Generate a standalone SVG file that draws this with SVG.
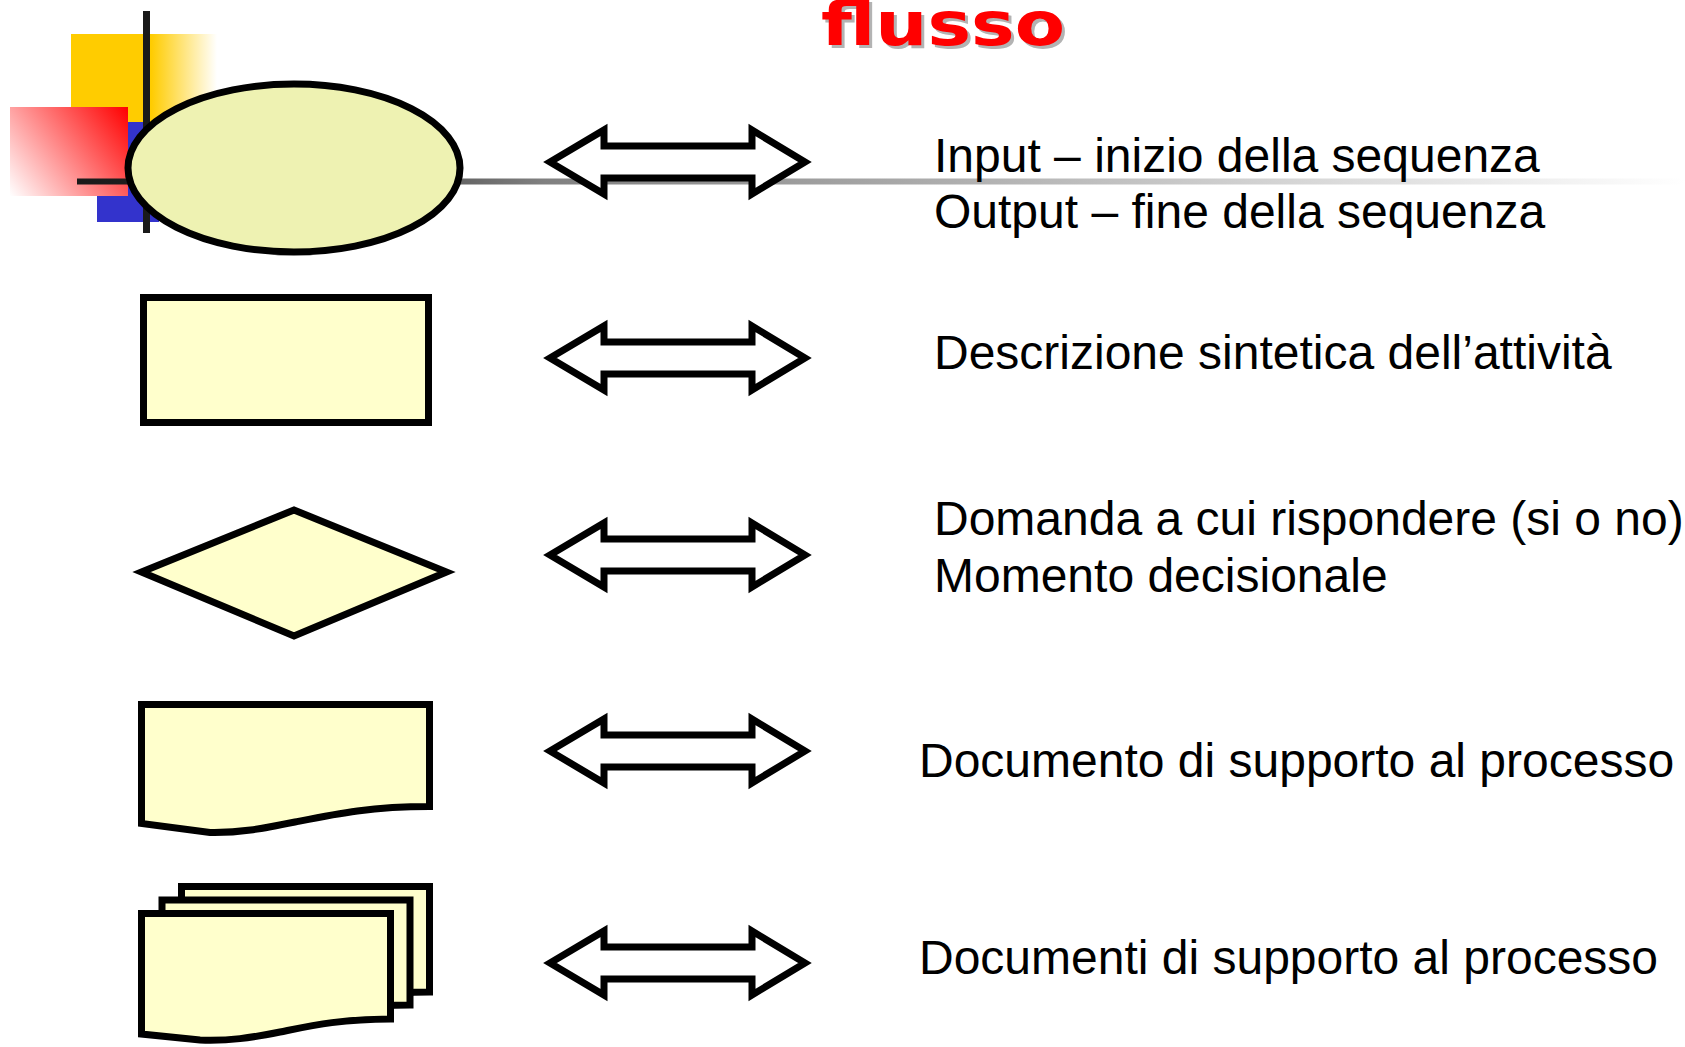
<svg xmlns="http://www.w3.org/2000/svg" xmlns:xlink="http://www.w3.org/1999/xlink" width="1685" height="1047" viewBox="0 0 1685 1047">
  <style>
    .shape { fill: #FFFFCC; stroke: #000; stroke-width: 7; stroke-linejoin: miter; }
    .arrow { fill: #fff; stroke: #000; stroke-width: 7; stroke-linejoin: miter; stroke-miterlimit: 10; }
    .lbl { font-family: "Liberation Sans", Arial, sans-serif; font-size: 48px; fill: #000; }
    .title { font-family: "DejaVu Sans", Verdana, sans-serif; font-weight: bold; font-size: 60px; }
  </style>
  <defs>
    <linearGradient id="yellowFade" x1="71" y1="0" x2="217" y2="0" gradientUnits="userSpaceOnUse">
      <stop offset="0" stop-color="#FFCC00" stop-opacity="1"/>
      <stop offset="0.55" stop-color="#FFCC00" stop-opacity="1"/>
      <stop offset="1" stop-color="#FFCC00" stop-opacity="0"/>
    </linearGradient>
    <linearGradient id="redFade" x1="128" y1="107" x2="10" y2="196" gradientUnits="userSpaceOnUse">
      <stop offset="0" stop-color="#FF0000"/>
      <stop offset="1" stop-color="#FFFFFF"/>
    </linearGradient>
    <linearGradient id="lineFade" x1="77" y1="0" x2="1685" y2="0" gradientUnits="userSpaceOnUse">
      <stop offset="0" stop-color="#1a1a1a"/>
      <stop offset="0.2" stop-color="#333333"/>
      <stop offset="0.24" stop-color="#666666"/>
      <stop offset="0.29" stop-color="#808080"/>
      <stop offset="0.5" stop-color="#a6a6a6"/>
      <stop offset="0.76" stop-color="#d6d6d6"/>
      <stop offset="1" stop-color="#ffffff"/>
    </linearGradient>
    <path id="dblArrow" class="arrow" d="M550,0 L604,-32 L604,-16 L752,-16 L752,-32 L805,0 L752,32 L752,16 L604,16 L604,32 Z"/>
  </defs>

  <rect width="1685" height="1047" fill="#fff"/>

  <!-- template decoration -->
  <g id="decoration">
    <rect x="71" y="34" width="146" height="88" fill="url(#yellowFade)"/>
    <rect x="97" y="122" width="62" height="100" fill="#3333CC"/>
    <rect x="10" y="107" width="118" height="89" fill="url(#redFade)"/>
    <rect x="143" y="11" width="7" height="222" fill="#1a1a1a"/>
    <rect x="77" y="178.5" width="1608" height="6" fill="url(#lineFade)"/>
  </g>

  <!-- title -->
  <g id="title">
    <text class="title" x="824" y="48" fill="#B3B3B3" textLength="244" lengthAdjust="spacingAndGlyphs">flusso</text>
    <text class="title" x="821" y="45" fill="#FF0000" textLength="244" lengthAdjust="spacingAndGlyphs">flusso</text>
  </g>

  <!-- nodes -->
  <g id="node-terminal">
    <ellipse cx="294" cy="168" rx="166" ry="84" fill="#EEF2B2" stroke="#000" stroke-width="7"/>
  </g>
  <g id="node-process">
    <rect class="shape" x="143.5" y="297.5" width="285" height="125"/>
  </g>
  <g id="node-decision">
    <polygon class="shape" points="141.5,572 294,510 446.5,572 294,636"/>
  </g>
  <g id="node-document">
    <path class="shape" d="M141.5,704.5 H429.5 V806.5 C370,806.5 335,814 295,822 C260,829 240,833 210,832.5 L141.5,823.5 Z"/>
  </g>
  <g id="node-multidocument">
    <path class="shape" d="M181.5,886.5 H429.5 V992 C380,992 350,999 320,1005 C290,1011 270,1014 240,1013 L181.5,1007 Z"/>
    <path class="shape" d="M162,900 H410 V1005 C360,1005 330,1012 300,1018 C270,1024 250,1027 220,1026 L162,1020 Z"/>
    <path class="shape" d="M141.5,913.5 H390.5 V1019 C340,1019 310,1026 280,1032 C250,1038 230,1041 200,1040 L141.5,1034 Z"/>
  </g>

  <!-- connectors -->
  <g id="connectors">
    <use xlink:href="#dblArrow" href="#dblArrow" transform="translate(0,162)"/>
    <use xlink:href="#dblArrow" href="#dblArrow" transform="translate(0,358)"/>
    <use xlink:href="#dblArrow" href="#dblArrow" transform="translate(0,555)"/>
    <use xlink:href="#dblArrow" href="#dblArrow" transform="translate(0,751)"/>
    <use xlink:href="#dblArrow" href="#dblArrow" transform="translate(0,963)"/>
  </g>

  <!-- labels -->
  <g id="labels">
    <text class="lbl" x="934" y="172">Input – inizio della sequenza</text>
    <text class="lbl" x="934" y="228">Output – fine della sequenza</text>
    <text class="lbl" x="934" y="369">Descrizione sintetica dell’attività</text>
    <text class="lbl" x="934" y="535">Domanda a cui rispondere (si o no)</text>
    <text class="lbl" x="934" y="592">Momento decisionale</text>
    <text class="lbl" x="919" y="777">Documento di supporto al processo</text>
    <text class="lbl" x="919" y="974">Documenti di supporto al processo</text>
  </g>
</svg>
